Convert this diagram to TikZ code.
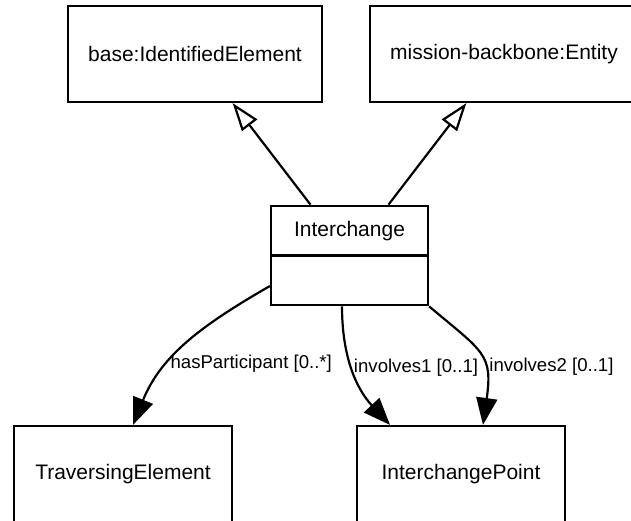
\documentclass[tikz,border=0pt]{standalone}
\usepackage{fontspec}
\setmainfont{Liberation Sans}
\usetikzlibrary{arrows.meta}
\usetikzlibrary{positioning, shapes.multipart}

\begin{document}
\begin{tikzpicture}[x=1pt, y=1pt, line width=2.2pt, auto,
    class node/.style={rectangle, draw, minimum height=96pt, font=\fontsize{21}{25}\selectfont},
    split node/.style={rectangle split, rectangle split parts=2, rectangle split part align=center, draw, minimum width=157pt, inner ysep=14pt, font=\fontsize{21}{25}\selectfont},
    gen/.style={-{Triangle[open, length=28pt, width=19pt]}},
    assoc/.style={-{Triangle[length=27pt, width=21pt]}},
    role/.style={font=\fontsize{18.6}{22}\selectfont, right, inner sep=1pt}]

        \useasboundingbox (0,0) rectangle (631,520);
        \clip (0,0) rectangle (631,520);

        \node[split node] (inter) at (349.5,264.5) {Interchange \nodepart{two} \vphantom{Interchange}};
        \node[class node, minimum width=254pt] (base) [on grid, above left=201.5pt and 154.5pt of inter]  {base:IdentifiedElement};
        \node[class node, minimum width=268pt] (mb)   [on grid, above right=201.5pt and 154.5pt of inter] {mission-backbone:Entity};
        \node[class node, minimum width=218pt] (trav) [on grid, below left=218.5pt and 226.5pt of inter]  {TraversingElement};
        \node[class node, minimum width=208pt] (ip)   [on grid, below right=218.5pt and 111.5pt of inter] {InterchangePoint};

          \path
            (inter) edge [gen]   (base)
                    edge [gen]   (mb)
            ([yshift=-30.5pt]inter.west) edge [assoc, out=210, in=68]
                node [role, pos=.65]  {hasParticipant [0..*]} ([xshift=10pt]trav.north)
            ([xshift=-7.5pt]inter.south) edge [assoc, out=270, in=133]
                node [role, pos=.47]  {involves1 [0..1]}      ([xshift=-71pt]ip.north)
            (inter.south east) edge [assoc, out=-40, in=82, looseness=1.4]
                node [role, pos=.61, xshift=3pt]  {involves2 [0..1]} ([xshift=22pt]ip.north);
        \end{tikzpicture}
\end{document}
